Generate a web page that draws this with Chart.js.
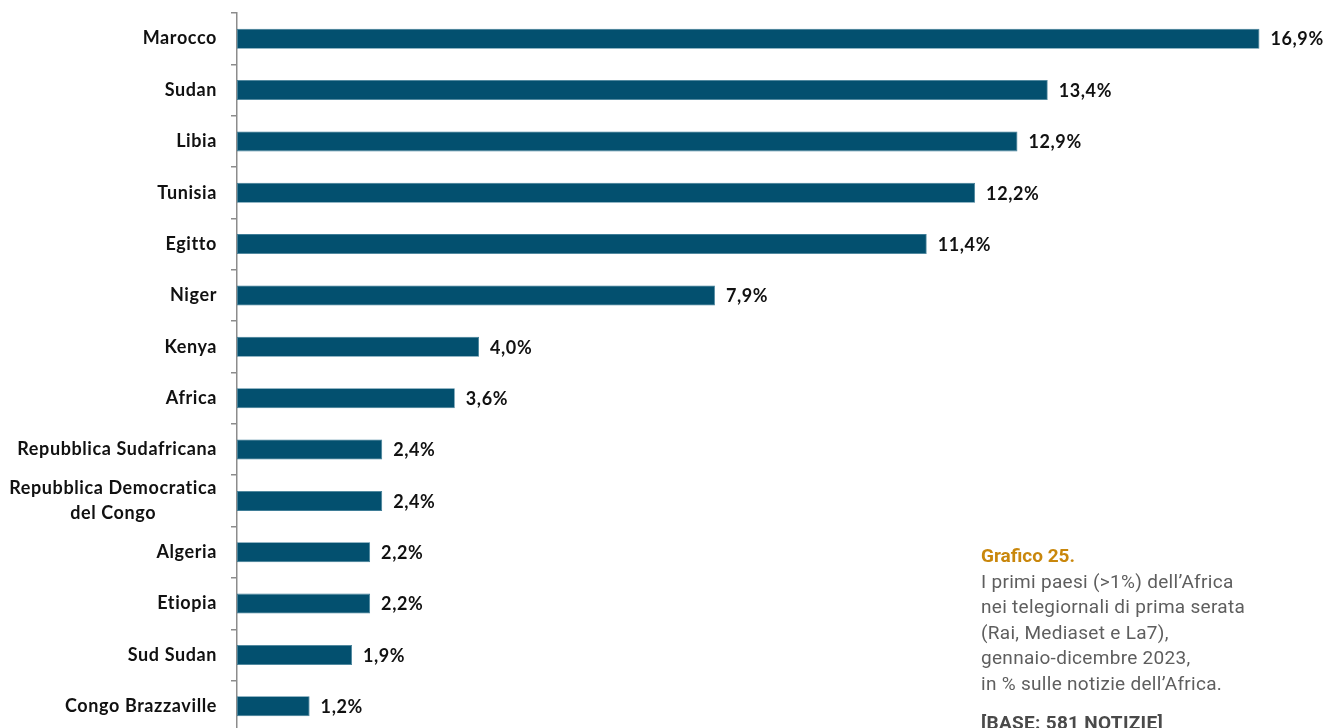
<!DOCTYPE html>
<html>
<head>
<meta charset="utf-8">
<script src="https://cdn.jsdelivr.net/npm/chart.js@4/dist/chart.umd.min.js"></script>
<style>
  html, body { margin: 0; padding: 0; background: #fff; overflow: hidden; }
  #wrap { position: relative; width: 1327px; height: 728px; overflow: hidden; }
  #box { position: absolute; left: 0; top: 0; width: 1327px; height: 745px; }
  #note {
    position: absolute; left: 981px; top: 543px;
    font-family: Roboto, "Noto Sans", sans-serif; font-weight: 400;
    font-size: 19px; line-height: 25.5px; color: #5e5e5e; letter-spacing: 0.3px;
  }
  #note .ttl { color: #c9870c; font-weight: 700; letter-spacing: 0; }
  #note .base { margin-top: 14px; font-weight: 700; color: #4a4a4a; }
</style>
</head>
<body>
<div id="wrap">
  <div id="box"><canvas id="paesi"></canvas></div>
  <div id="note">
    <div class="ttl">Grafico 25.</div>
    <div>I primi paesi (&gt;1%) dell’Africa</div>
    <div>nei telegiornali di prima serata</div>
    <div>(Rai, Mediaset e La7),</div>
    <div>gennaio-dicembre 2023,</div>
    <div>in % sulle notizie dell’Africa.</div>
    <div class="base">[BASE: 581 NOTIZIE]</div>
  </div>
</div>
<script>
// countries and share of Africa news (%)
const paesi = [
  'Marocco', 'Sudan', 'Libia', 'Tunisia', 'Egitto', 'Niger', 'Kenya', 'Africa',
  'Repubblica Sudafricana', ['Repubblica Democratica', 'del Congo'],
  'Algeria', 'Etiopia', 'Sud Sudan', 'Congo Brazzaville'
];
const quote = [16.9, 13.4, 12.9, 12.2, 11.4, 7.9, 4.0, 3.6, 2.4, 2.4, 2.2, 2.2, 1.9, 1.2];

const BAR = '#03506f';
const AXIS = '#8c8c8c';
const labelFont = 'bold 18px Lato, "Open Sans", sans-serif';

function fmt(v) {
  return v.toFixed(1).replace('.', ',') + '%';
}

// country names, right aligned against the axis (multi-line ones centred within their block)
const nomiPlugin = {
  id: 'nomi',
  afterDraw(chart) {
    const ctx = chart.ctx;
    const y = chart.scales.y;
    const right = y.right - 20;
    ctx.save();
    ctx.font = labelFont;
    ctx.letterSpacing = '0.6px';
    ctx.fillStyle = '#111';
    ctx.textBaseline = 'middle';
    paesi.forEach((p, i) => {
      const yc = y.getPixelForValue(i);
      const lines = Array.isArray(p) ? p : [p];
      const w = Math.max(...lines.map(l => ctx.measureText(l).width));
      const lh = 25;
      lines.forEach((l, k) => {
        const ly = yc + (k - (lines.length - 1) / 2) * lh;
        ctx.textAlign = 'center';
        ctx.fillText(l, right - w / 2, ly);
      });
    });
    ctx.restore();
  }
};

// value labels at the end of each bar
const valoriPlugin = {
  id: 'valori',
  afterDatasetsDraw(chart) {
    const ctx = chart.ctx;
    const meta = chart.getDatasetMeta(0);
    ctx.save();
    ctx.font = labelFont;
    ctx.letterSpacing = '0.6px';
    ctx.fillStyle = '#111';
    ctx.textAlign = 'left';
    ctx.textBaseline = 'middle';
    meta.data.forEach((bar, i) => {
      ctx.fillText(fmt(quote[i]), bar.x + 11, bar.y + 1);
    });
    ctx.restore();
  }
};

const ctx = document.getElementById('paesi').getContext('2d');
const chart = new Chart(ctx, {
  type: 'bar',
  data: {
    labels: paesi,
    datasets: [{
      data: quote,
      backgroundColor: BAR,
      borderColor: '#3f7d97',
      borderWidth: 0.8,
      borderSkipped: false,
      categoryPercentage: 1,
      barPercentage: 0.39
    }]
  },
  options: {
    indexAxis: 'y',
    responsive: true,
    maintainAspectRatio: false,
    animation: false,
    layout: { padding: { top: 13, bottom: 13, right: 1, left: 0 } },
    plugins: {
      legend: { display: false },
      tooltip: { enabled: false }
    },
    scales: {
      x: {
        display: false,
        min: 0,
        max: 18
      },
      y: {
        afterFit(scale) { scale.width = 237; },
        ticks: { display: false },
        grid: {
          offset: true,
          drawOnChartArea: false,
          drawTicks: true,
          tickLength: 6,
          color: AXIS,
          lineWidth: 1.5
        },
        border: { display: true, color: AXIS, width: 1.5 }
      }
    }
  },
  plugins: [nomiPlugin, valoriPlugin]
});
</script>
</body>
</html>
